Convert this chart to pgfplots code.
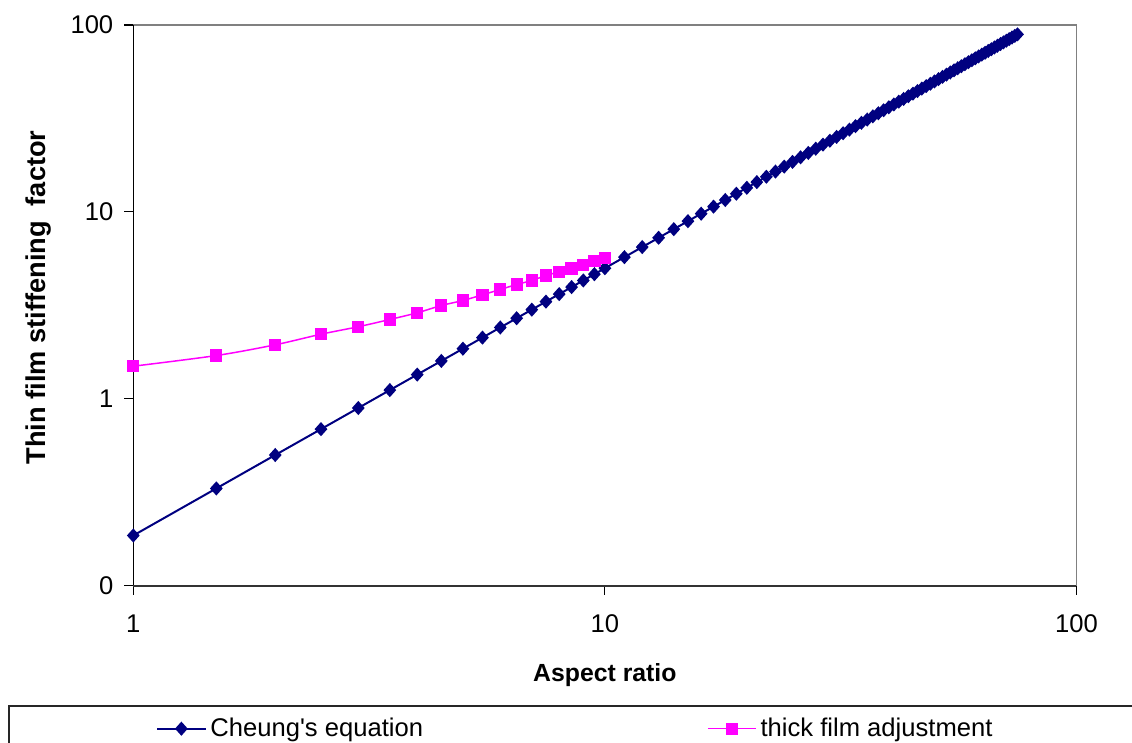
\documentclass[border=0pt]{standalone}
\usepackage{fontspec}
\setmainfont{Liberation Sans}
\usepackage{pgfplots}
\pgfplotsset{compat=1.18}
\definecolor{cheung}{RGB}{0,0,128}
\definecolor{filmmag}{RGB}{255,0,255}
\definecolor{frame}{RGB}{128,128,128}

% Cheung's equation: stiffening factor against aspect ratio
\pgfplotstableread{
x y
1 0.1856
1.5 0.3315
2 0.5003
2.5 0.6881
3 0.8929
3.5 1.1132
4 1.3477
4.5 1.5946
5 1.8538
5.5 2.1251
6 2.4068
6.5 2.6983
7 2.9999
7.5 3.3109
8 3.6310
8.5 3.9598
9 4.2970
9.5 4.6429
10 4.9955
11 5.7265
12 6.4844
13 7.2701
14 8.0828
15 8.9218
16 9.7834
17 10.670
18 11.577
19 12.512
20 13.458
21 14.432
22 15.426
23 16.438
24 17.468
25 18.518
26 19.590
27 20.677
28 21.780
29 22.901
30 24.037
31 25.191
32 26.361
33 27.548
34 28.750
35 29.970
36 31.202
37 32.449
38 33.710
39 34.985
40 36.275
41 37.577
42 38.894
43 40.224
44 41.569
45 42.926
46 44.297
47 45.681
48 47.078
49 48.487
50 49.908
51 51.342
52 52.787
53 54.245
54 55.715
55 57.196
56 58.690
57 60.192
58 61.707
59 63.233
60 64.771
61 66.318
62 67.877
63 69.447
64 71.028
65 72.620
66 74.222
67 75.835
68 77.458
69 79.092
70 80.736
71 82.392
72 84.055
73 85.730
74 87.416
75 89.110
}\cheungdata

% Thick film adjustment
\pgfplotstableread{
x y
1 1.494
1.5 1.704
2 1.945
2.5 2.216
3 2.430
3.5 2.657
4 2.885
4.5 3.156
5 3.357
5.5 3.600
6 3.845
6.5 4.088
7 4.295
7.5 4.567
8 4.780
8.5 4.980
9 5.210
9.5 5.450
10 5.680
}\thickdata

\begin{document}
\begin{tikzpicture}
\begin{axis}[
  scale only axis, width=471.6pt, height=280.35pt,
  xmode=log, ymode=log,
  xmin=1, xmax=100, ymin=0.1, ymax=100,
  xtick={1,10,100}, xticklabels={1,10,100},
  ytick={0.1,1,10,100}, yticklabels={0,1,10,100},
  xminorticks=false, yminorticks=false,
  xtick pos=left, ytick pos=left,
  tick align=outside, major tick length=4.5pt,
  tick style={black, line width=0.6pt},
  axis line style={frame, line width=0.6pt},
  ticklabel style={font=\fontsize{12.8}{15}\selectfont},
  xticklabel style={yshift=-6.5pt},
  yticklabel style={xshift=-2pt},
  xlabel={\bfseries Aspect ratio},
  ylabel={\bfseries Thin film stiffening~\ factor},
  xlabel style={font=\fontsize{12.4}{15}\selectfont, at={(axis description cs:0.5,-0.17)}, anchor=base},
  ylabel style={font=\fontsize{13.6}{16}\selectfont, at={(axis description cs:-0.101,0.514)}, anchor=center},
  legend columns=2,
  legend style={draw=none, fill=none, at={(axis description cs:0.0177,-0.255)}, anchor=west,
    font=\fontsize{12.8}{15}\selectfont,
    /tikz/every even column/.append style={column sep=140pt}},
  legend image code/.code={\draw[#1,mark repeat=2,mark phase=2] plot coordinates {(0pt,0pt) (12pt,0pt) (24pt,0pt)};},
  clip=false,
]
% axis lines on the left and bottom are darker than the frame
\draw[black, line width=0.6pt] (rel axis cs:0,1) -- (rel axis cs:0,0);
\draw[black!80, line width=0.9pt] (rel axis cs:0,0) -- (rel axis cs:1,0);

\addplot[color=cheung, line width=1pt, smooth, mark=diamond*,
  mark size=2.8pt, mark options={solid, fill=cheung, xscale=1.2}]
  table[x=x, y=y] {\cheungdata};
\addlegendentry{Cheung\textquotesingle s equation}

\addplot[color=filmmag, line width=0.75pt, smooth, mark=square*,
  mark size=2.7pt, mark options={solid, fill=filmmag}]
  table[x=x, y=y] {\thickdata};
\addlegendentry{thick film adjustment}
\end{axis}
% legend frame, running past the right and bottom edges
\draw[black!85, line width=0.6pt] (-62.15pt,-90pt) rectangle (510pt,-60.15pt);
\pgfresetboundingbox
\useasboundingbox (-66.65pt,-78.65pt) rectangle (499.35pt,292.85pt);
\end{tikzpicture}
\end{document}
